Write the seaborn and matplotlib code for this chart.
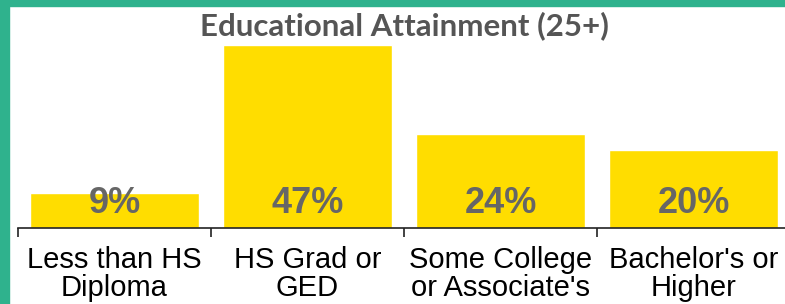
import matplotlib
matplotlib.use("Agg")
import matplotlib.pyplot as plt
import seaborn as sns
from matplotlib.patches import Rectangle

# data
categories = ["Less than HS\nDiploma", "HS Grad or\nGED", "Some College\nor Associate's", "Bachelor's or\nHigher"]
values = [9, 47, 24, 20]
value_labels = ["9%", "47%", "24%", "20%"]

sns.set_theme(style="white")
plt.rcParams['font.family'] = ['Liberation Sans', 'DejaVu Sans']

W, H = 785, 304
fig = plt.figure(figsize=(W / 100, H / 100), dpi=100)
ax = fig.add_axes([18 / W, 1 - 227.5 / H, 772 / W, 182.5 / H])

sns.barplot(x=categories, y=values, color="#FFDD00", saturation=1, width=0.875, ax=ax)
ax.set_ylim(0, 47)
ax.set_xlim(-0.5, len(categories) - 0.5)

for i, lab in enumerate(value_labels):
    ax.text(i, 15 / 3.883, lab, ha="center", va="baseline", fontsize=26,
            fontweight="bold", color="#666666")

# axis styling
for s in ["top", "right", "left"]:
    ax.spines[s].set_visible(False)
ax.spines["bottom"].set_color("#222222")
ax.spines["bottom"].set_linewidth(1.2)
ax.set_yticks([])
ax.set_xticks([i - 0.5 for i in range(len(categories) + 1)], minor=False)
ax.set_xticklabels([""] * (len(categories) + 1))
ax.set_xticks(range(len(categories)), minor=True)
ax.set_xticklabels(categories, minor=True, fontsize=21, color="#000000", linespacing=1.0)
ax.tick_params(axis="x", which="major", bottom=True, length=6.5, width=1.2, color="#222222")
ax.tick_params(axis="x", which="minor", bottom=False, length=0, pad=13)
ax.set_xlabel("")
ax.set_ylabel("")

fig.text((18 + 772 / 2) / W, 1 - 35 / H, "Educational Attainment (25+)", ha="center",
         va="baseline", fontsize=22.5, fontweight="bold", color="#555555",
         family=["Lato", "DejaVu Sans"])

# green frame on top and left
fig.patches.append(Rectangle((0, 1 - 6 / H), 1, 6 / H, transform=fig.transFigure,
                             color="#2FB28D", zorder=10))
fig.patches.append(Rectangle((0, 0), 8.5 / W, 1, transform=fig.transFigure,
                             color="#2FB28D", zorder=10))

fig.savefig("out.png", dpi=100)
